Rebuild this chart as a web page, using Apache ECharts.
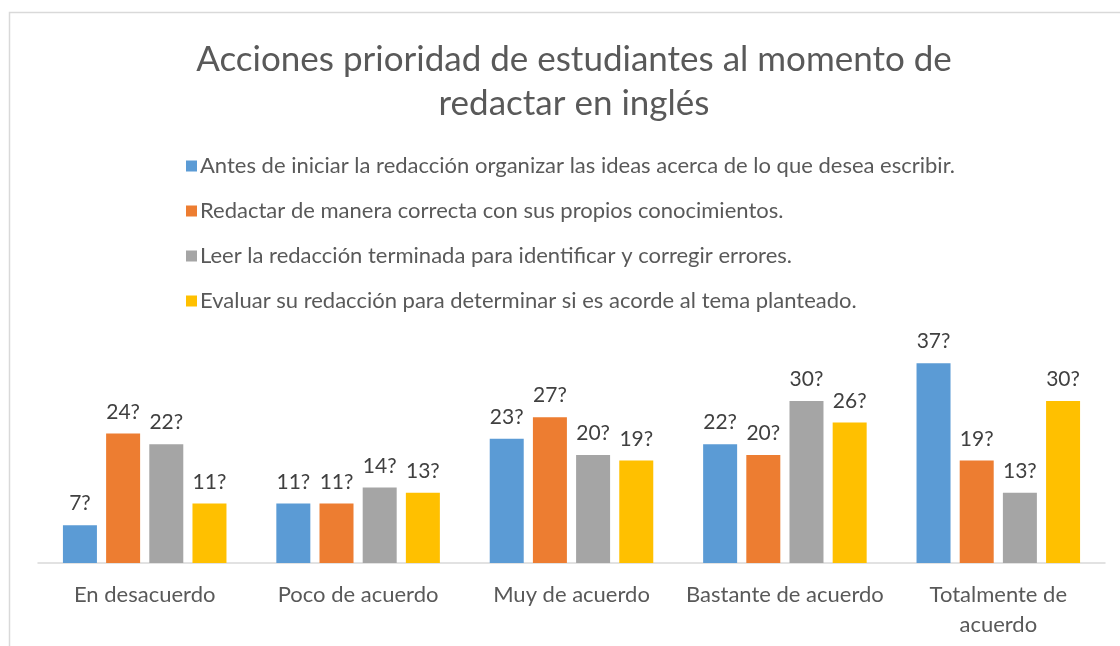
<!DOCTYPE html>
<html>
<head>
<meta charset="utf-8">
<script src="https://cdn.jsdelivr.net/npm/echarts@6/dist/echarts.min.js"></script>
<style>
  html, body { margin: 0; padding: 0; background: #fff; }
  #main { width: 1120px; height: 646px; }
</style>
</head>
<body>
<div id="main"></div>
<script>
var categories = ['En desacuerdo', 'Poco de acuerdo', 'Muy de acuerdo', 'Bastante de acuerdo', 'Totalmente de\nacuerdo'];
var seriesNames = [
    'Antes de iniciar la redacción organizar las ideas acerca de lo que desea escribir.',
    'Redactar de manera correcta con sus propios conocimientos.',
    'Leer la redacción terminada para identificar y corregir errores.',
    'Evaluar su redacción para determinar si es acorde al tema planteado.'
];
var organizar = [7, 11, 23, 22, 37];
var redactar = [24, 11, 27, 20, 19];
var leer = [22, 14, 20, 30, 13];
var evaluar = [11, 13, 19, 26, 30];
var colors = ['#5B9BD5', '#ED7D31', '#A5A5A5', '#FFC000'];

var font = 'Lato, "Open Sans", sans-serif';
var chart = echarts.init(document.getElementById('main'));

function makeSeries(name, data, color) {
    return {
        name: name,
        type: 'bar',
        data: data,
        barWidth: 34,
        barGap: '27%',
        itemStyle: { color: color },
        label: {
            show: true,
            position: 'top',
            distance: 11,
            formatter: '{c}?',
            color: '#404040',
            fontSize: 21,
            fontFamily: font
        }
    };
}

var option = {
    animation: false,
    backgroundColor: '#fff',
    color: colors,
    graphic: [{
        type: 'rect',
        shape: { x: 9.5, y: 12.5, width: 1200, height: 700 },
        style: { fill: 'none', stroke: '#d9d9d9', lineWidth: 1.5 },
        silent: true
    }],
    title: {
        text: 'Acciones prioridad de estudiantes al momento de\nredactar en inglés',
        left: 569,
        textAlign: 'center',
        top: 33,
        textStyle: {
            color: '#595959',
            fontSize: 35,
            fontWeight: 'normal',
            fontFamily: font,
            lineHeight: 44
        }
    },
    legend: {
        orient: 'vertical',
        left: 181,
        top: 150,
        icon: 'rect',
        itemWidth: 11,
        itemHeight: 11,
        itemGap: 23,
        textStyle: {
            color: '#595959',
            fontSize: 22,
            fontFamily: font,
            padding: [0, 0, 0, -2]
        },
        data: seriesNames
    },
    grid: { left: 38, right: 15, top: 347, bottom: 83, containLabel: false },
    xAxis: {
        type: 'category',
        data: categories,
        axisLine: { lineStyle: { color: '#d9d9d9', width: 1.5 } },
        axisTick: { show: false },
        axisLabel: {
            color: '#595959',
            fontSize: 22,
            fontFamily: font,
            margin: 17,
            lineHeight: 30,
            interval: 0
        }
    },
    yAxis: {
        type: 'value',
        min: 0,
        max: 40,
        show: false,
        splitLine: { show: false }
    },
    series: [
        makeSeries(seriesNames[0], organizar, colors[0]),
        makeSeries(seriesNames[1], redactar, colors[1]),
        makeSeries(seriesNames[2], leer, colors[2]),
        makeSeries(seriesNames[3], evaluar, colors[3])
    ]
};

chart.setOption(option);
</script>
</body>
</html>
